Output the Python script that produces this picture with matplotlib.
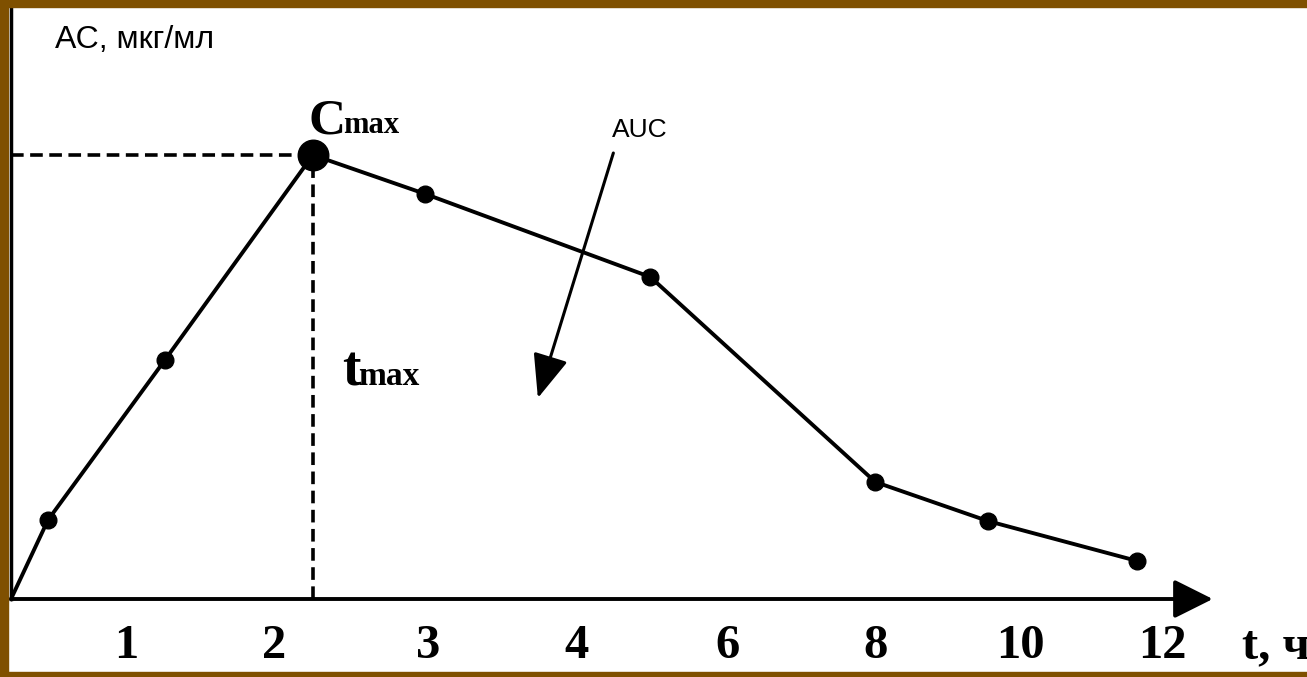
import matplotlib.pyplot as plt
from matplotlib.patches import Rectangle

# положение точек по оси времени (в делениях шкалы) и концентрация
t_pos = [0.0, 0.25, 1.04, 2.04, 2.80, 4.32, 5.84, 6.60, 7.61]
conc = [0.0, 0.79, 2.39, 4.44, 4.05, 3.22, 1.17, 0.78, 0.38]
i_max = 3

tick_pos = [0.78, 1.78, 2.82, 3.82, 4.84, 5.84, 6.82, 7.78]
tick_labels = ['1', '2', '3', '4', '6', '8', '10', '12']

fig = plt.figure(figsize=(13.07, 6.77), dpi=100)
ax = fig.add_axes([0, 0, 1, 1])
ax.set_xlim(-11 / 148, 1296 / 148)
ax.set_ylim(-0.78, 5.99)
ax.axis('off')

# рамка
brown = '#7f5000'
fig.patches.append(Rectangle((0, 1 - 7 / 677), 1, 7 / 677, transform=fig.transFigure, color=brown, zorder=0))
fig.patches.append(Rectangle((0, 0), 8 / 1307, 1, transform=fig.transFigure, color=brown, zorder=0))
fig.patches.append(Rectangle((0, 0), 1, 5 / 677, transform=fig.transFigure, color=brown, zorder=0))

# оси
ax.plot([0, 0], [0, 5.99], color='black', lw=2.5)
ax.annotate('', xy=(8.12, 0), xytext=(0, 0),
            arrowprops=dict(arrowstyle='-|>,head_length=1.2,head_width=0.6', mutation_scale=20,
                            color='black', lw=2.8, shrinkA=0, shrinkB=0))

# пунктир к Cmax
tm, cm = t_pos[i_max], conc[i_max]
ax.plot([0, tm], [cm, cm], color='black', lw=2.6, ls=(0, (3.5, 1.8)))
ax.plot([tm, tm], [0, cm], color='black', lw=2.6, ls=(0, (3.5, 1.8)))

# кривая
ax.plot(t_pos, conc, color='black', lw=2.8, marker='o', markersize=12,
        markevery=list(range(1, len(t_pos))), zorder=3)
ax.plot([tm], [cm], 'o', color='black', markersize=22, zorder=4)

# подписи делений
for p, lab in zip(tick_pos, tick_labels):
    ax.text(p, -0.47, lab, ha='center', va='center', fontsize=35, fontweight='bold',
            family='Liberation Serif')
ax.text(8.32, -0.47, 't, ч', ha='left', va='center', fontsize=35, fontweight='bold',
        family='Liberation Serif')

ax.text(44 / 148, 5.51, 'АС, мкг/мл', ha='left', va='baseline', fontsize=23, family='Liberation Sans')

# Cmax, tmax
ax.text(2.01, 4.66, 'C', ha='left', va='baseline', fontsize=37, fontweight='bold', family='Liberation Serif')
ax.text(2.245, 4.66, 'max', ha='left', va='baseline', fontsize=22, fontweight='bold', family='Liberation Serif')
ax.text(2.24, 2.14, 't', ha='left', va='baseline', fontsize=40, fontweight='bold', family='Liberation Serif')
ax.text(2.345, 2.14, 'max', ha='left', va='baseline', fontsize=24, fontweight='bold', family='Liberation Serif')

# AUC
ax.text(4.25, 4.62, 'AUC', ha='center', va='baseline', fontsize=19, family='Liberation Sans')
ax.annotate('', xy=(3.56, 2.01), xytext=(4.07, 4.46),
            arrowprops=dict(arrowstyle='-|>,head_length=1.35,head_width=0.55', mutation_scale=20,
                            color='black', lw=2.2, shrinkA=0, shrinkB=0))

plt.savefig('out.png', dpi=100)
